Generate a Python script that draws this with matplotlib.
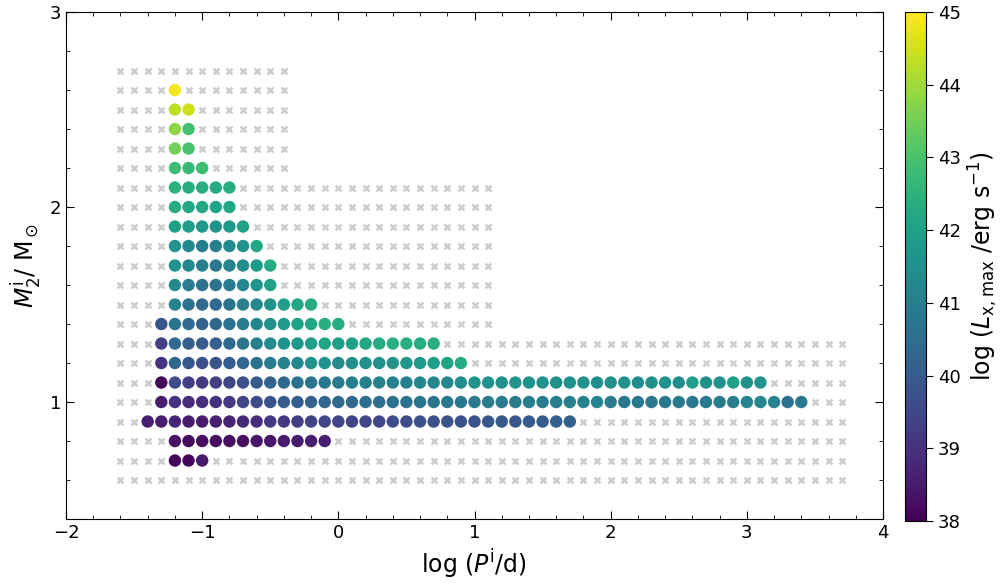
import numpy as np
import matplotlib.pyplot as plt
from matplotlib.ticker import MultipleLocator

# grid of computed models (grey crosses): x range per block of rows
grid_x_min = -1.6
grid_blocks = [  # (y_low, y_high, x_max)
    (0.6, 1.3, 3.7),
    (1.4, 2.1, 1.1),
    (2.2, 2.7, -0.4),
]

# models that reach the X-ray phase: row y, first x, log Lx,max along the row (step 0.1)
dot_rows = [
    (2.6, -1.2, [44.9]),
    (2.5, -1.2, [44.3, 44.5]),
    (2.4, -1.2, [43.8, 42.9]),
    (2.3, -1.2, [43.5, 43.0]),
    (2.2, -1.2, [42.8, 42.7, 42.8]),
    (2.1, -1.2, [42.5, 42.4, 42.4, 42.3, 42.4]),
    (2.0, -1.2, [42.3, 42.2, 42.2, 42.1, 42.2]),
    (1.9, -1.2, [42.0, 41.9, 41.7, 41.6, 41.7, 42.0]),
    (1.8, -1.2, [41.6, 41.3, 41.0, 41.0, 41.3, 41.6, 42.2]),
    (1.7, -1.2, [41.5, 41.2, 41.0, 40.8, 41.1, 41.4, 41.8, 42.3]),
    (1.6, -1.2, [41.3, 40.9, 40.6, 40.6, 40.9, 41.2, 41.6, 42.0]),
    (1.5, -1.2, [41.1, 40.6, 40.4, 40.4, 40.7, 41.0, 41.3, 41.6, 41.9, 42.2, 42.3]),
    (1.4, -1.3, [39.8, 40.7, 40.4, 40.2, 40.3, 40.6, 40.9, 41.2, 41.5, 41.8, 42.0,
                 42.2, 42.4, 42.3]),
    (1.3, -1.3, [39.3, 40.4, 40.1, 40.0, 40.1, 40.4, 40.7, 41.0, 41.3, 41.5, 41.7,
                 41.9, 42.1, 41.9, 42.0, 42.2, 42.3, 42.4, 42.4, 42.3, 42.4]),
    (1.2, -1.3, [39.0, 40.3, 39.9, 39.7, 39.8, 40.0, 40.3, 40.6, 40.9, 41.1, 41.3,
                 41.5, 41.6, 41.3, 41.4, 41.5, 41.5, 41.6, 41.7, 41.8, 41.9, 42.1, 42.3]),
    (1.1, -1.3, [38.1, 39.6, 39.3, 39.2, 39.3, 39.5, 39.7, 40.0, 40.2, 40.4, 40.6,
                 40.7, 40.8,
                 40.9, 41.0, 41.0, 41.1, 41.1, 41.1, 41.2, 41.2, 41.3, 41.4,
                 41.5, 41.6, 41.5, 41.6, 41.5, 41.6, 41.5, 41.5, 41.6, 41.4,
                 41.5, 41.5, 41.4, 41.5, 41.5, 41.4, 41.9, 41.5, 41.6, 42.0,
                 41.5, 41.6]),
    (1.0, -1.3, [38.6, 39.0, 38.9, 38.9, 39.0, 39.2, 39.4, 39.6, 39.8, 40.0, 40.1,
                 40.2, 40.3,
                 40.4, 40.4, 40.5, 40.5, 40.6, 40.6, 40.7, 40.7, 40.8, 40.8,
                 40.9, 40.9, 40.9, 40.9, 41.0, 40.9, 41.0, 41.0, 41.1, 41.1,
                 40.9, 40.8, 40.8, 40.8, 40.8, 40.8, 40.8, 40.8, 40.9, 40.9,
                 41.1, 41.2, 41.1, 40.6, 40.8]),
    (0.9, -1.4, [38.6, 38.6, 38.7, 38.5, 38.5, 38.6, 38.7, 38.8, 38.9, 39.1, 39.2,
                 39.3, 39.4, 39.5,
                 39.4, 39.4, 39.5, 39.5, 39.6, 39.6, 39.7, 39.7, 39.8, 39.8,
                 39.8, 39.9, 39.9, 39.9, 40.0, 40.0, 40.1, 40.2]),
    (0.8, -1.2, [38.3, 38.2, 38.2, 38.2, 38.3, 38.3, 38.4, 38.4, 38.5, 38.5, 38.6, 38.6]),
    (0.7, -1.2, [38.1, 38.1, 38.5]),
]

gx, gy = [], []
for y0, y1, xmax in grid_blocks:
    for y in np.arange(round(y0 * 10), round(y1 * 10) + 1) / 10:
        for x in np.arange(round(grid_x_min * 10), round(xmax * 10) + 1) / 10:
            gx.append(x)
            gy.append(y)

dx, dy, dc = [], [], []
for y, x0, vals in dot_rows:
    for i, v in enumerate(vals):
        dx.append(x0 + 0.1 * i)
        dy.append(y)
        dc.append(v)

fig = plt.figure(figsize=(10, 5.87), dpi=100)
ax = fig.add_axes([0.066, 0.1158, 0.817, 0.8637])
cax = fig.add_axes([0.905, 0.1125, 0.021, 0.867])

ax.scatter(gx, gy, marker='x', s=18, linewidths=1.8, c='#cccccc', zorder=1)
sc = ax.scatter(dx, dy, c=dc, cmap='viridis', vmin=38, vmax=45, s=80,
                edgecolors='none', zorder=2)

ax.set_xlim(-2, 4)
ax.set_ylim(0.4, 3)
ax.xaxis.set_major_locator(MultipleLocator(1))
ax.xaxis.set_minor_locator(MultipleLocator(0.2))
ax.yaxis.set_major_locator(MultipleLocator(1))
ax.yaxis.set_minor_locator(MultipleLocator(0.2))
ax.tick_params(which='both', direction='in', top=True, right=True, labelsize=13)
ax.tick_params(which='major', length=6)
ax.tick_params(which='minor', length=3)
ax.set_xlabel(r'log ($P^{\rm i}$/d)', fontsize=17)
ax.set_ylabel(r'$M_2^{\rm i}$/ M$_\odot$', fontsize=17)

cb = fig.colorbar(sc, cax=cax)
cb.set_ticks(range(38, 46))
cb.ax.tick_params(labelsize=13, length=5)
cb.set_label(r'log ($L_{\rm x,max}$ /erg s$^{-1}$)', fontsize=17)

fig.savefig('out.png', dpi=100)
